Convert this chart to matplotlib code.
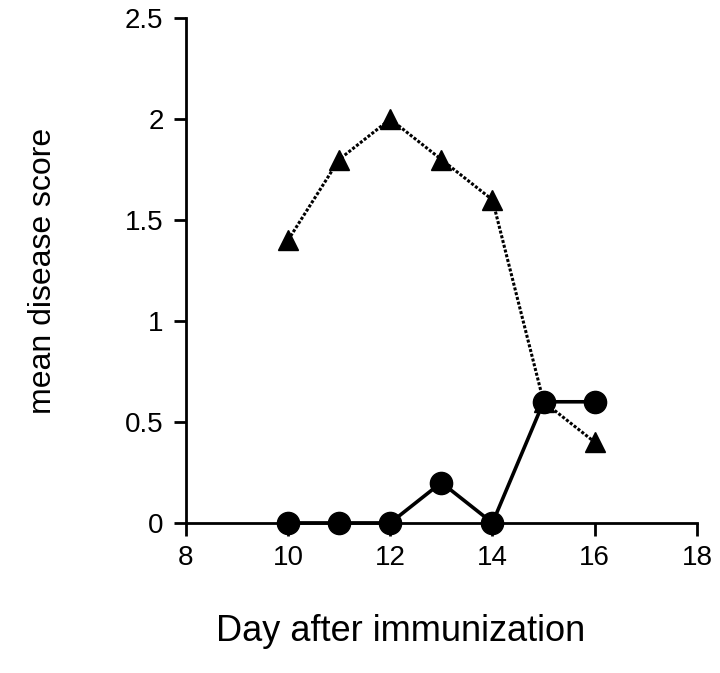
import matplotlib
matplotlib.use('Agg')
import matplotlib.pyplot as plt

plt.rcParams['font.family'] = ['Liberation Sans', 'DejaVu Sans']

# data
days = [10, 11, 12, 13, 14, 15, 16]
score_circle = [0, 0, 0, 0.2, 0, 0.6, 0.6]
score_triangle = [1.4, 1.8, 2.0, 1.8, 1.6, 0.6, 0.4]

x_ticks = [8, 10, 12, 14, 16, 18]
y_ticks = [0, 0.5, 1, 1.5, 2, 2.5]
y_tick_labels = ['0', '0.5', '1', '1.5', '2', '2.5']

fig = plt.figure(figsize=(7.2, 6.73), dpi=100)
ax = fig.add_axes([0.258, 0.223, 0.71, 0.75])

ax.plot(days, score_triangle, color='black', linestyle=(0, (1, 0.6)), linewidth=2.2,
        marker='^', markersize=15, clip_on=False, zorder=3)
ax.plot(days, score_circle, color='black', linestyle='-', linewidth=2.6,
        marker='o', markersize=16, clip_on=False, zorder=4)

ax.set_xlim(8, 18)
ax.set_ylim(0, 2.5)
ax.set_xticks(x_ticks)
ax.set_yticks(y_ticks)
ax.set_yticklabels(y_tick_labels)

for side in ['top', 'right']:
    ax.spines[side].set_visible(False)
for side in ['left', 'bottom']:
    ax.spines[side].set_linewidth(2)
ax.tick_params(direction='out', length=9, width=2, labelsize=20, pad=7)

ax.set_xlabel('Day after immunization', fontsize=26)
ax.xaxis.set_label_coords(0.42, -0.18)
ax.set_ylabel('mean disease score', fontsize=23)
ax.yaxis.set_label_coords(-0.25, 0.5)

fig.savefig('out.png', dpi=100)
